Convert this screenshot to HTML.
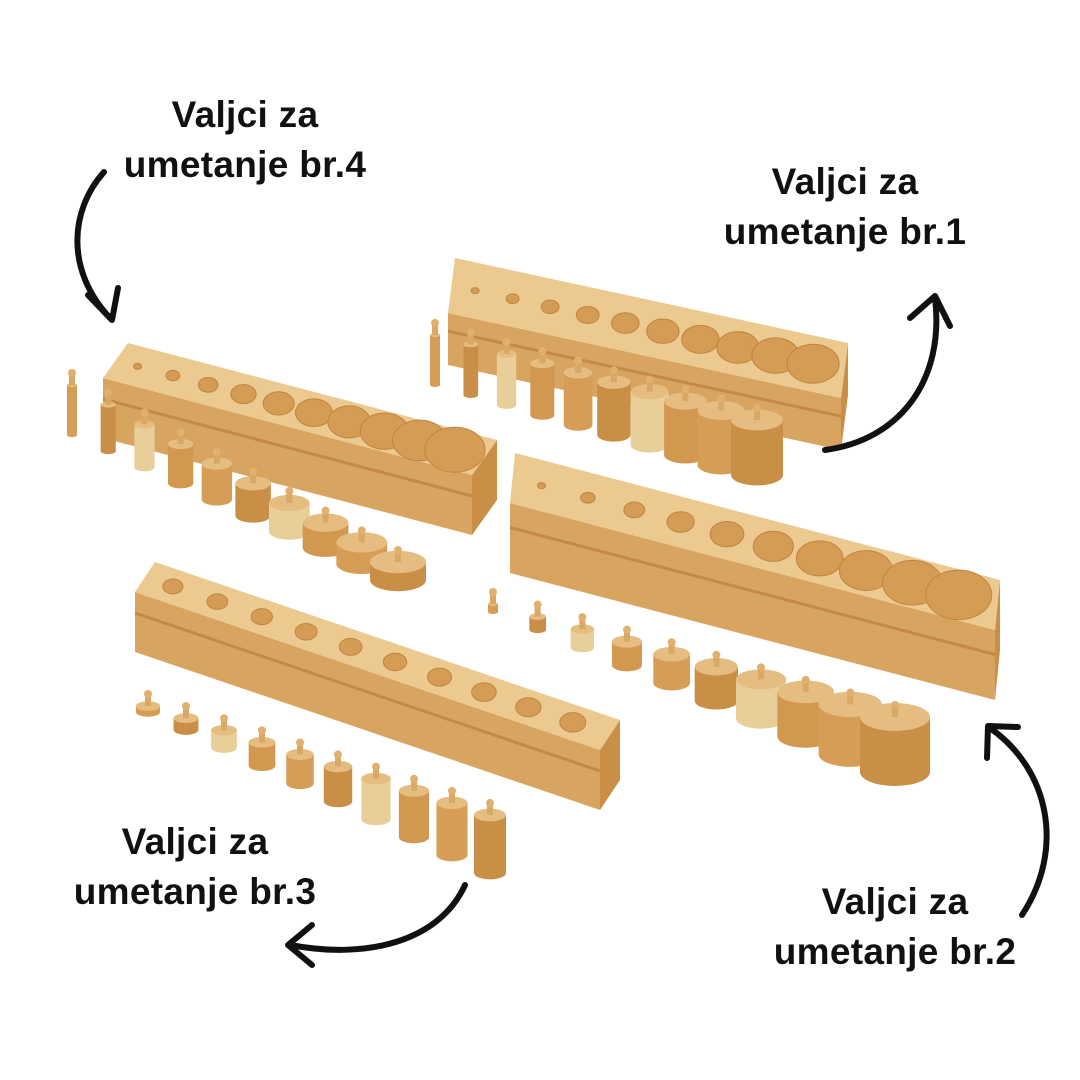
<!DOCTYPE html>
<html><head><style>
html,body{margin:0;padding:0;background:#fff;}
#c{position:relative;width:1080px;height:1080px;overflow:hidden;}
.t{position:absolute;font-family:"Liberation Sans",sans-serif;font-weight:bold;font-size:37px;line-height:50px;text-align:center;color:#111;width:320px;letter-spacing:0.3px;}
svg{position:absolute;left:0;top:0;}
</style></head><body><div id="c">
<svg id="s" width="1080" height="1080" viewBox="0 0 1080 1080">
<g id="blocks"></g>
<g fill="none" stroke="#111" stroke-width="6" stroke-linecap="round" stroke-linejoin="round">
<path d="M104,172 C70,210 65,270 110,318"/><path d="M88,295 L112,320 L118,288"/>
<path d="M825,450 C900,440 945,380 935,298"/><path d="M910,318 L935,296 L950,326"/>
<path d="M1022,915 C1065,850 1050,770 990,728"/><path d="M987,758 L988,726 L1018,727"/>
<path d="M465,885 C440,940 370,960 290,945"/><path d="M312,925 L288,945 L312,965"/>
</g>
</svg>
<div class="t" style="left:85px;top:90px">Valjci za<br>umetanje br.4</div>
<div class="t" style="left:685px;top:157px">Valjci za<br>umetanje br.1</div>
<div class="t" style="left:35px;top:817px">Valjci za<br>umetanje br.3</div>
<div class="t" style="left:735px;top:877px">Valjci za<br>umetanje br.2</div>
</div>
<script>
var g=document.getElementById('blocks'),h='';
function block(tl,tr,depth,thick,holes){
 var bl=[tl[0]+depth[0],tl[1]+depth[1]],br=[tr[0]+depth[0],tr[1]+depth[1]];
 h+='<polygon points="'+[bl,br,[br[0],br[1]+thick],[bl[0],bl[1]+thick]].join(' ')+'" fill="#d8a560"/>';
 h+='<polygon points="'+[tr,br,[br[0],br[1]+thick],[tr[0],tr[1]+thick]].join(' ')+'" fill="#c98f47"/>';
 h+='<line x1="'+bl[0]+'" y1="'+(bl[1]+thick*0.35)+'" x2="'+br[0]+'" y2="'+(br[1]+thick*0.35)+'" stroke="#c48a45" stroke-width="3"/>';
 h+='<polygon points="'+[tl,tr,br,bl].join(' ')+'" fill="#ecc98f"/>';
 var n=holes[2];
 for(var i=0;i<n;i++){var f=i/(n-1);
  var x=tl[0]+depth[0]/2+(tr[0]-tl[0])*(0.06+0.86*f),y=tl[1]+depth[1]/2+(tr[1]-tl[1])*(0.06+0.86*f);
  var r=holes[0]+(holes[1]-holes[0])*f;
  h+='<ellipse cx="'+x+'" cy="'+y+'" rx="'+r+'" ry="'+(r*0.75)+'" fill="#d49c55" stroke="#c08540" stroke-width="1"/>';}
}
function cyls(x0,y0,x1,y1,r0,r1,h0,h1,cols){
 for(var i=0;i<10;i++){var f=i/9,x=x0+(x1-x0)*f,y=y0+(y1-y0)*f,r=r0+(r1-r0)*f,hh=h0+(h1-h0)*f,c=cols[i%cols.length];
  h+='<path d="M'+(x-r)+','+(y-hh)+' L'+(x-r)+','+y+' A'+r+','+(r*0.4)+' 0 0 0 '+(x+r)+','+y+' L'+(x+r)+','+(y-hh)+' Z" fill="'+c+'"/>';
  h+='<ellipse cx="'+x+'" cy="'+(y-hh)+'" rx="'+r+'" ry="'+(r*0.4)+'" fill="#e6bd80"/>';
  h+='<rect x="'+(x-3)+'" y="'+(y-hh-12)+'" width="6" height="12" fill="#d9a865"/><circle cx="'+x+'" cy="'+(y-hh-12)+'" r="4" fill="#e0b070"/>';}
}
var cols=['#d59d55','#c98f47','#e8cf99','#d3984f'];
block([455,258],[848,343],[-7,55],52,[4,26,10]);
block([128,343],[497,440],[-25,35],60,[4,30,10]);
block([515,453],[1000,580],[-5,50],70,[4,33,10]);
block([155,562],[620,720],[-20,30],60,[10,13,10]);
cyls(435,385,757,475,5,26,50,55,cols);
cyls(72,435,398,580,5,28,50,18,cols);
cyls(493,612,895,772,5,35,8,55,cols);
cyls(148,712,490,873,12,16,6,58,cols);
g.innerHTML=h;
</script>
</body></html>
